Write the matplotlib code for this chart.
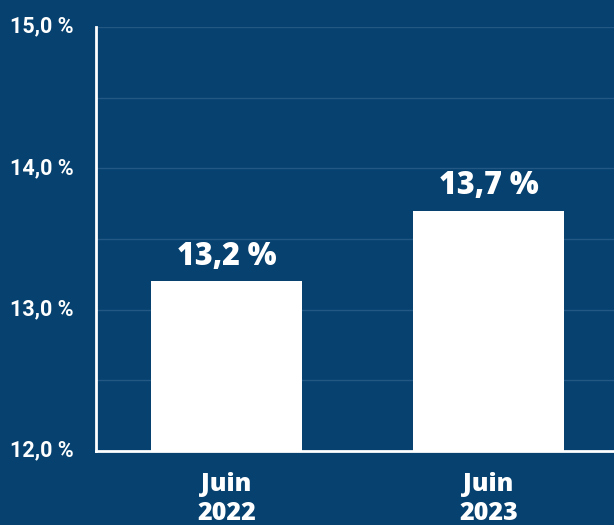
import matplotlib.pyplot as plt
from matplotlib import transforms

# data
periods = ["Juin\n2022", "Juin\n2023"]
rates = [13.2, 13.7]
ytick_vals = [12.0, 13.0, 14.0, 15.0]

bg = "#06416f"
grid_col = "#235784"

fig = plt.figure(figsize=(6.14, 5.25), dpi=100, facecolor=bg)
ax = fig.add_axes([0.1564, 0.141, 0.8436, 0.8076], facecolor=bg)

x = range(len(periods))
bars = ax.bar(x, rates, width=0.576, color="white", zorder=3)

ax.set_ylim(12, 15)
ax.set_xlim(-0.498, 1.479)

# faint gridlines every 0.5
for v in [12.5, 13.0, 13.5, 14.0, 14.5, 15.0]:
    ax.axhline(v, color=grid_col, lw=1, zorder=1)

ax.set_yticks(ytick_vals)
ax.set_yticklabels([f"{v:.1f} %".replace(".", ",") for v in ytick_vals],
                   fontfamily="Roboto", fontweight="bold", fontsize=15.5, color="white")
ax.tick_params(axis="y", length=0, pad=16)
# labels sit a little above their gridline
shift = transforms.ScaledTranslation(0, 2 / 72, fig.dpi_scale_trans)
for t in ax.get_yticklabels():
    t.set_transform(t.get_transform() + shift)

ax.set_xticks(list(x))
ax.set_xticklabels(periods, fontfamily="Open Sans", fontweight="heavy", fontsize=18,
                   color="white", linespacing=1.22)
ax.tick_params(axis="x", length=0, pad=15)

for b, r in zip(bars, rates):
    ax.annotate(f"{r:.1f} %".replace(".", ","), (b.get_x() + b.get_width() / 2, r),
                xytext=(0, 6), textcoords="offset points", ha="center", va="bottom",
                fontfamily="Open Sans", fontweight="heavy", fontsize=22, color="white")

for s in ["top", "right"]:
    ax.spines[s].set_visible(False)
for s in ["left", "bottom"]:
    ax.spines[s].set_color("white")
    ax.spines[s].set_linewidth(2)
    ax.spines[s].set_zorder(4)

fig.savefig("out.png", dpi=100, facecolor=bg)
